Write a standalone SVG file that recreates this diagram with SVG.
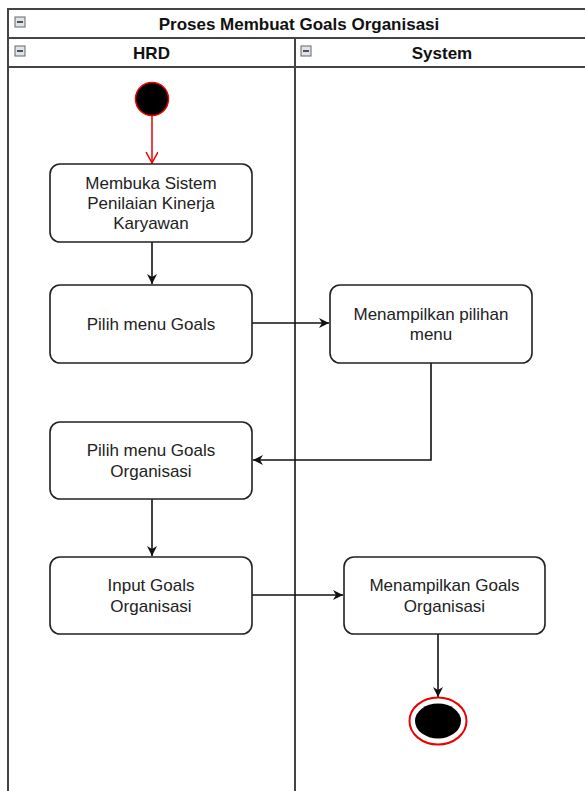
<svg xmlns="http://www.w3.org/2000/svg" width="585" height="791" viewBox="0 0 585 791">
<style>
.frame{fill:none;stroke:#444;stroke-width:2}
.box{fill:#fff;stroke:#222;stroke-width:1.6}
.t{font-family:"Liberation Sans",Arial,sans-serif;font-size:17px;fill:#222;text-anchor:middle}
.h{font-family:"Liberation Sans",Arial,sans-serif;font-size:17px;font-weight:bold;fill:#111;text-anchor:middle}
.icon{fill:#dfe4ea;stroke:#666;stroke-width:1}
.edge{fill:none;stroke:#111;stroke-width:1.6}
</style>
<defs>
<marker id="arr" markerWidth="12" markerHeight="12" refX="10" refY="5" orient="auto" markerUnits="userSpaceOnUse">
<path d="M0,0 L10,5 L0,10 L3,5 Z" fill="#111"/>
</marker>
<marker id="open" markerWidth="14" markerHeight="14" refX="11" refY="6" orient="auto" markerUnits="userSpaceOnUse">
<path d="M0,0 L11,6 L0,12" fill="none" stroke="#e00" stroke-width="1.5"/>
</marker>
</defs>
<rect width="585" height="791" fill="#fff"/>
<g id="pool">
<line class="frame" x1="8" y1="9" x2="590" y2="9"/>
<line class="frame" x1="8" y1="38" x2="590" y2="38"/>
<line class="frame" x1="8" y1="67" x2="590" y2="67"/>
<line class="frame" x1="8" y1="8" x2="8" y2="791"/>
<line class="frame" x1="295" y1="38" x2="295" y2="791"/>
<rect class="icon" x="15" y="17" width="10" height="10"/>
<line x1="17" y1="22" x2="23" y2="22" stroke="#222" stroke-width="1.5"/>
<text class="h" x="299" y="29.5">Proses Membuat Goals Organisasi</text>
</g>
<g id="lane-hrd">
<rect class="icon" x="15" y="46" width="10" height="10"/>
<line x1="17" y1="51" x2="23" y2="51" stroke="#222" stroke-width="1.5"/>
<text class="h" x="151.5" y="58.5">HRD</text>
</g>
<g id="lane-system">
<rect class="icon" x="301" y="46" width="10" height="10"/>
<line x1="303" y1="51" x2="309" y2="51" stroke="#222" stroke-width="1.5"/>
<text class="h" x="442" y="58.5">System</text>
</g>
<g id="connectors">
<line x1="152" y1="116" x2="152" y2="163" stroke="#e00" stroke-width="1.5" marker-end="url(#open)"/>
<line class="edge" x1="152" y1="242" x2="152" y2="284" marker-end="url(#arr)"/>
<line class="edge" x1="252" y1="323" x2="329" y2="323" marker-end="url(#arr)"/>
<polyline class="edge" points="431,363 431,460 253,460" marker-end="url(#arr)"/>
<line class="edge" x1="152" y1="499" x2="152" y2="556" marker-end="url(#arr)"/>
<line class="edge" x1="252" y1="595" x2="343" y2="595" marker-end="url(#arr)"/>
<line class="edge" x1="438" y1="634" x2="438" y2="697" marker-end="url(#arr)"/>
</g>
<g id="start">
<circle cx="152" cy="99" r="16.5" fill="#000" stroke="#e00" stroke-width="1.5"/>
</g>
<g id="n1">
<rect class="box" x="50" y="164" width="202" height="78" rx="10"/>
<text class="t" x="151" y="188.6">Membuka Sistem</text>
<text class="t" x="151" y="209">Penilaian Kinerja</text>
<text class="t" x="151" y="229.4">Karyawan</text>
</g>
<g id="n2">
<rect class="box" x="50" y="285" width="202" height="78" rx="10"/>
<text class="t" x="151" y="330">Pilih menu Goals</text>
</g>
<g id="s1">
<rect class="box" x="330" y="285" width="202" height="78" rx="10"/>
<text class="t" x="431" y="319.8">Menampilkan pilihan</text>
<text class="t" x="431" y="340.2">menu</text>
</g>
<g id="n3">
<rect class="box" x="50" y="422" width="202" height="77" rx="10"/>
<text class="t" x="151" y="456.3">Pilih menu Goals</text>
<text class="t" x="151" y="476.7">Organisasi</text>
</g>
<g id="n4">
<rect class="box" x="50" y="557" width="202" height="77" rx="10"/>
<text class="t" x="151" y="591.3">Input Goals</text>
<text class="t" x="151" y="611.7">Organisasi</text>
</g>
<g id="s2">
<rect class="box" x="344" y="557" width="201" height="77" rx="10"/>
<text class="t" x="444.5" y="591.3">Menampilkan Goals</text>
<text class="t" x="444.5" y="611.7">Organisasi</text>
</g>
<g id="end">
<ellipse cx="438" cy="721" rx="28.5" ry="23.5" fill="#fff" stroke="#e00" stroke-width="2"/>
<ellipse cx="438" cy="721" rx="23" ry="17.5" fill="#000"/>
</g>
</svg>
